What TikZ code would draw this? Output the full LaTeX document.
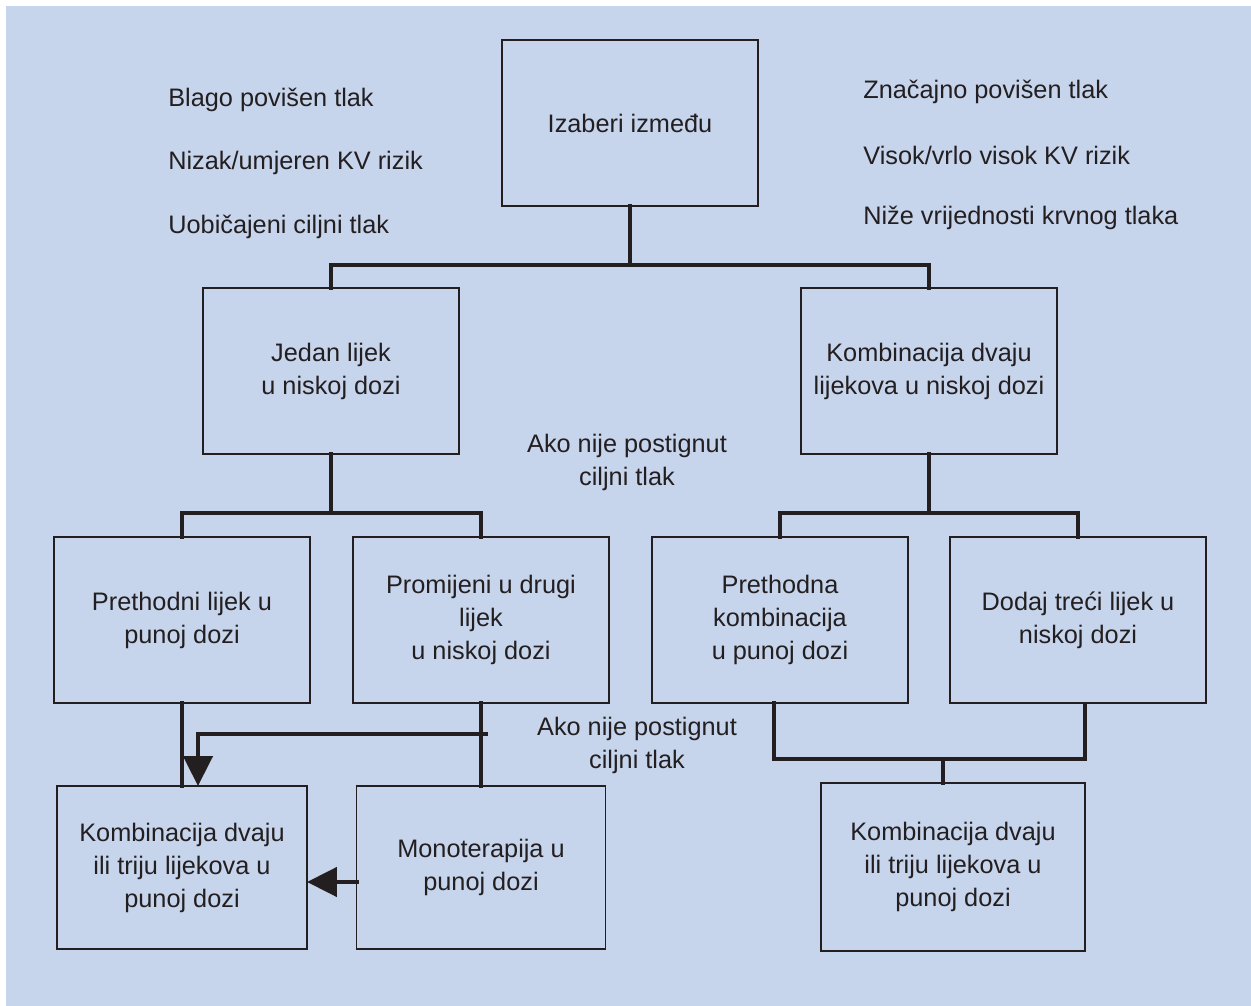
\documentclass[tikz,border=0pt]{standalone}
\usepackage{fontspec}
\setmainfont{Liberation Sans}
\usetikzlibrary{arrows.meta,positioning,calc}
\definecolor{pozadina}{RGB}{198,212,236}
\definecolor{tinta}{RGB}{35,31,32}

\begin{document}
\begin{tikzpicture}[x=0.02cm, y=-0.02cm, >={Triangle[length=0.6cm,width=0.58cm]},
  every node/.style={text=tinta, font=\fontsize{14.4}{18.8}\selectfont},
  kutija/.style={draw=tinta, line width=1.1pt, align=center, inner sep=0pt, outer sep=0pt,
    minimum width=5.12cm, minimum height=3.32cm},
  veza/.style={draw=tinta, line width=2.6pt, line cap=rect},
  strelica/.style={veza, ->},
  biljeska/.style={anchor=west, inner sep=0pt},
  uvjet/.style={align=center, inner sep=0pt}]

  % pozadina
  \useasboundingbox (0,0) rectangle (1251,1006);
  \fill[white] (0,0) rectangle (1251,1006);
  \fill[pozadina] (6,6) rectangle (1251,1006);

  % kutije
  \node[kutija] (izbor) at (630,123) {Izaberi između};
  \node[kutija] (jedan) at (331,371) {Jedan lijek\\u niskoj dozi};
  \node[kutija] (dvaLijeka) at (929,371) {Kombinacija dvaju\\lijekova u niskoj dozi};
  \node[kutija] (prethodni) at (182,620) {Prethodni lijek u\\punoj dozi};
  \node[kutija] (promijeni) at (481,620) {Promijeni u drugi\\lijek\\u niskoj dozi};
  \node[kutija] (prethodna) at (780,620) {Prethodna\\kombinacija\\u punoj dozi};
  \node[kutija] (dodaj) at (1078,620) {Dodaj treći lijek u\\niskoj dozi};
  \node[kutija, minimum width=5cm, minimum height=3.26cm] (punaLijevo) at (182,867.5)
    {Kombinacija dvaju\\ili triju lijekova u\\punoj dozi};
  \node[kutija, minimum width=4.98cm, minimum height=3.26cm] (mono) at (481,867.5)
    {Monoterapija u\\punoj dozi};
  \node[kutija, minimum width=5.28cm, minimum height=3.36cm] (punaDesno) at (953,867)
    {Kombinacija dvaju\\ili triju lijekova u\\punoj dozi};

  % bilješke lijevo i desno
  \node[biljeska] (blago) at (168,100) {Blago povišen tlak};
  \node[biljeska] (nizak) at (168,163) {Nizak/umjeren KV rizik};
  \node[biljeska] (uobicajeni) at (168,227) {Uobičajeni ciljni tlak};
  \node[biljeska] (znacajno) at (863,92) {Značajno povišen tlak};
  \node[biljeska] (visok) at (863,155) {Visok/vrlo visok KV rizik};
  \node[biljeska] (nize) at (863,218) {Niže vrijednosti krvnog tlaka};

  \node[uvjet] (uvjet1) at (627,462) {Ako nije postignut\\ciljni tlak};
  \node[uvjet] (uvjet2) at (637,745) {Ako nije postignut\\ciljni tlak};

  % veze
  \coordinate (racva1) at (630,265);
  \coordinate (racva2) at (331,513);
  \coordinate (racva3) at (929,513);
  \draw[veza] (izbor) -- (racva1);
  \draw[veza] (jedan) |- (racva1) -| (dvaLijeka);
  \draw[veza] (jedan) -- (racva2);
  \draw[veza] (prethodni) |- (racva2) -| (promijeni);
  \draw[veza] (dvaLijeka) -- (racva3);
  \draw[veza] (prethodna) |- (racva3) -| (dodaj);

  % donji lijevi dio
  \draw[veza] (prethodni) -- (punaLijevo);
  \draw[veza] (promijeni) -- (mono);
  \coordinate (odvojak) at (486,734);
  \draw[strelica] (odvojak) -| ([xshift=0.32cm]punaLijevo.north);
  \draw[strelica] ([yshift=-0.29cm]mono.west) -- ([yshift=-0.29cm]punaLijevo.east);

  % donji desni dio
  \coordinate (sabir) at (943,759);
  \draw[veza] ([xshift=-0.12cm]prethodna.south) |- (sabir)
    -| ([xshift=0.14cm,yshift=-0.06cm]dodaj.south);
  \draw[veza] (sabir) -- (sabir |- punaDesno.north);
\end{tikzpicture}
\end{document}
